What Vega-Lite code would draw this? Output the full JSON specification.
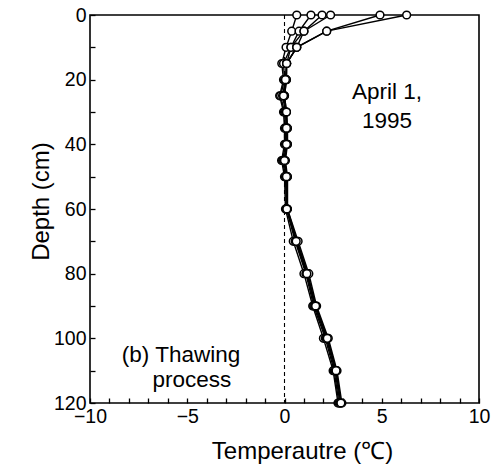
{
  "$schema": "https://vega.github.io/schema/vega-lite/v6.json",
  "width": 389,
  "height": 388,
  "autosize": "none",
  "padding": {"left": 90, "top": 15, "right": 16, "bottom": 68},
  "background": "white",
  "config": {
    "font": "Liberation Sans",
    "view": {"stroke": "black", "strokeWidth": 1.6}
  },
  "datasets": {
    "profiles": [
      {"p":"A","d":0,"t":0.63},{"p":"A","d":5,"t":0.37},{"p":"A","d":10,"t":0.08},{"p":"A","d":15,"t":-0.14},{"p":"A","d":20,"t":-0.05},{"p":"A","d":25,"t":-0.25},{"p":"A","d":30,"t":-0.05},{"p":"A","d":35,"t":0.0},{"p":"A","d":40,"t":0.0},{"p":"A","d":45,"t":-0.15},{"p":"A","d":50,"t":0.0},{"p":"A","d":60,"t":0.05},{"p":"A","d":70,"t":0.45},{"p":"A","d":80,"t":1.0},{"p":"A","d":90,"t":1.45},{"p":"A","d":100,"t":2.0},{"p":"A","d":110,"t":2.5},{"p":"A","d":120,"t":2.75},
      {"p":"B","d":0,"t":1.36},{"p":"B","d":5,"t":0.75},{"p":"B","d":10,"t":0.33},{"p":"B","d":15,"t":-0.05},{"p":"B","d":20,"t":0.0},{"p":"B","d":25,"t":-0.2},{"p":"B","d":30,"t":0.0},{"p":"B","d":35,"t":0.05},{"p":"B","d":40,"t":0.05},{"p":"B","d":45,"t":-0.1},{"p":"B","d":50,"t":0.05},{"p":"B","d":60,"t":0.1},{"p":"B","d":70,"t":0.55},{"p":"B","d":80,"t":1.1},{"p":"B","d":90,"t":1.5},{"p":"B","d":100,"t":2.1},{"p":"B","d":110,"t":2.55},{"p":"B","d":120,"t":2.8},
      {"p":"C","d":0,"t":1.93},{"p":"C","d":5,"t":1.0},{"p":"C","d":10,"t":0.33},{"p":"C","d":15,"t":0.11},{"p":"C","d":20,"t":0.05},{"p":"C","d":25,"t":-0.1},{"p":"C","d":30,"t":0.05},{"p":"C","d":35,"t":0.1},{"p":"C","d":40,"t":0.1},{"p":"C","d":45,"t":-0.05},{"p":"C","d":50,"t":0.1},{"p":"C","d":60,"t":0.12},{"p":"C","d":70,"t":0.6},{"p":"C","d":80,"t":1.15},{"p":"C","d":90,"t":1.55},{"p":"C","d":100,"t":2.15},{"p":"C","d":110,"t":2.6},{"p":"C","d":120,"t":2.85},
      {"p":"D","d":0,"t":2.37},{"p":"D","d":5,"t":1.0},{"p":"D","d":10,"t":0.63},{"p":"D","d":15,"t":0.11},{"p":"D","d":20,"t":0.1},{"p":"D","d":25,"t":0.0},{"p":"D","d":30,"t":0.1},{"p":"D","d":35,"t":0.15},{"p":"D","d":40,"t":0.15},{"p":"D","d":45,"t":0.0},{"p":"D","d":50,"t":0.15},{"p":"D","d":60,"t":0.15},{"p":"D","d":70,"t":0.65},{"p":"D","d":80,"t":1.2},{"p":"D","d":90,"t":1.6},{"p":"D","d":100,"t":2.2},{"p":"D","d":110,"t":2.65},{"p":"D","d":120,"t":2.9},
      {"p":"E","d":0,"t":4.91},{"p":"E","d":5,"t":2.17},{"p":"E","d":10,"t":0.63},{"p":"E","d":15,"t":0.11},{"p":"E","d":20,"t":0.1},{"p":"E","d":25,"t":0.0},{"p":"E","d":30,"t":0.1},{"p":"E","d":35,"t":0.15},{"p":"E","d":40,"t":0.15},{"p":"E","d":45,"t":0.05},{"p":"E","d":50,"t":0.15},{"p":"E","d":60,"t":0.15},{"p":"E","d":70,"t":0.7},{"p":"E","d":80,"t":1.25},{"p":"E","d":90,"t":1.65},{"p":"E","d":100,"t":2.25},{"p":"E","d":110,"t":2.7},{"p":"E","d":120,"t":2.95},
      {"p":"F","d":0,"t":6.28},{"p":"F","d":5,"t":2.17},{"p":"F","d":10,"t":0.63},{"p":"F","d":15,"t":0.11},{"p":"F","d":20,"t":0.05},{"p":"F","d":25,"t":-0.05},{"p":"F","d":30,"t":0.1},{"p":"F","d":35,"t":0.1},{"p":"F","d":40,"t":0.1},{"p":"F","d":45,"t":0.0},{"p":"F","d":50,"t":0.1},{"p":"F","d":60,"t":0.12},{"p":"F","d":70,"t":0.6},{"p":"F","d":80,"t":1.15},{"p":"F","d":90,"t":1.6},{"p":"F","d":100,"t":2.2},{"p":"F","d":110,"t":2.65},{"p":"F","d":120,"t":2.9}
    ],
    "notes": [
      {"label": "April 1,", "t": 5.27, "d": 23.8},
      {"label": "1995", "t": 5.27, "d": 32.8},
      {"label": "(b) Thawing", "t": -5.32, "d": 105.2},
      {"label": "process", "t": -4.76, "d": 112.9}
    ],
    "zero": [{"t": 0, "d": 0, "d2": 120}]
  },
  "encoding": {
    "x": {"field": "t", "type": "quantitative", "scale": {"domain": [-10, 10], "nice": false},
      "axis": {"values": [-10,-9,-8,-7,-6,-5,-4,-3,-2,-1,0,1,2,3,4,5,6,7,8,9,10], "labelExpr": "abs(datum.value) % 5 < 0.01 ? datum.label : ''",
        "grid": false, "domain": false, "offset": -5, "ticks": true, "tickSize": 5, "tickColor": "black", "tickWidth": 1.3, "labelColor": "black", "labelFont": "Liberation Sans", "labelFontSize": 19.5, "labelOverlap": false, "labelFlush": false, "labelPadding": 4,
        "title": "Temperautre  (℃)", "titleColor": "black", "titleFont": "Liberation Sans", "titleFontSize": 24, "titleFontWeight": "normal", "titleX": 212, "titleY": 60, "titleBaseline": "alphabetic"}},
    "y": {"field": "d", "type": "quantitative", "scale": {"domain": [0, 120], "reverse": true, "nice": false},
      "axis": {"values": [0,10,20,30,40,50,60,70,80,90,100,110,120], "labelExpr": "datum.value % 20 < 0.01 ? datum.label : ''",
        "grid": false, "domain": false, "offset": -5, "ticks": true, "tickSize": 5, "tickColor": "black", "tickWidth": 1.3, "labelColor": "black", "labelFont": "Liberation Sans", "labelFontSize": 19.5, "labelOverlap": false, "labelFlush": false, "labelPadding": 4,
        "title": "Depth  (cm)", "titleColor": "black", "titleFont": "Liberation Sans", "titleFontSize": 24, "titleFontWeight": "normal", "titleX": -47, "titleY": 186, "titleBaseline": "alphabetic", "titleAngle": -90}}
  },
  "layer": [
    {
      "data": {"name": "zero"},
      "mark": {"type": "rule", "color": "black", "strokeWidth": 1.1, "strokeDash": [4, 3]},
      "encoding": {
        "y2": {"field": "d2"}
      }
    },
    {
      "data": {"name": "profiles"},
      "mark": {"type": "line", "color": "black", "strokeWidth": 1.4, "point": {"filled": true, "fill": "white", "stroke": "black", "strokeWidth": 1.5, "size": 60, "opacity": 1}},
      "encoding": {
        "detail": {"field": "p"},
        "order": {"field": "d", "type": "quantitative"}
      }
    },
    {
      "data": {"name": "notes"},
      "mark": {"type": "text", "font": "Liberation Sans", "fontSize": 22.5, "color": "black", "align": "center", "baseline": "middle"},
      "encoding": {
        "text": {"field": "label"}
      }
    }
  ]
}
